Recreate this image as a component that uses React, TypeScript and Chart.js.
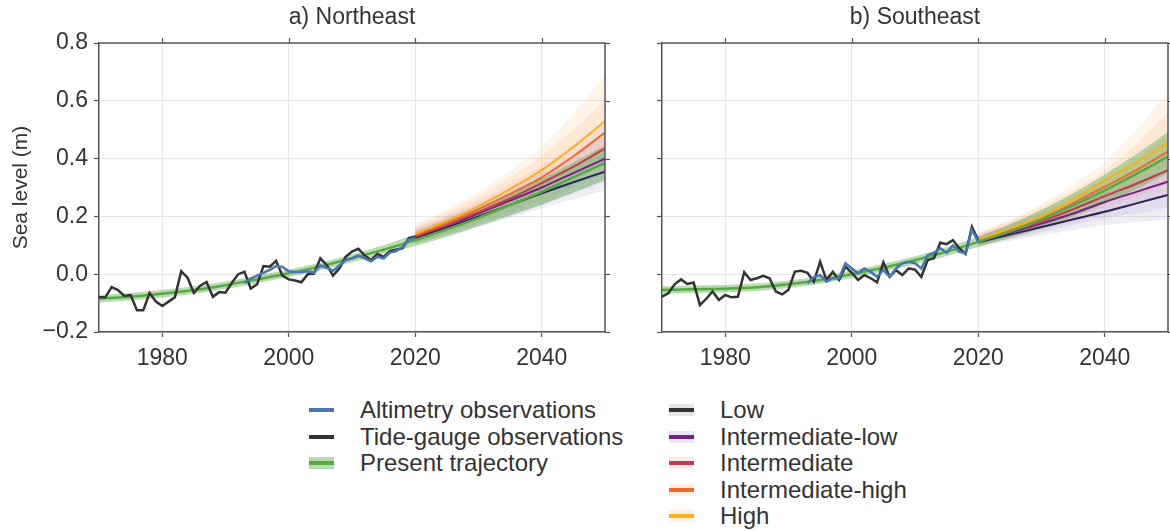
import React, { useEffect, useRef } from "react";
import { Chart, registerables } from "chart.js";

Chart.register(...registerables);

const FONT = "'Liberation Sans', Arial, Helvetica, sans-serif";
const TEXT = "#333333";

// ---------- data ----------
const range = (a: number, b: number) => Array.from({ length: b - a + 1 }, (_, i) => a + i);
const tideYears = range(1970, 2020);
const altYears = range(1993, 2020);
const trajYears = [1970, 1975, 1980, 1985, 1990, 1995, 2000, 2005, 2010, 2015, 2020, 2025, 2030, 2035, 2040, 2045, 2050];
const scenYears = [2020, 2025, 2030, 2035, 2040, 2045, 2050];
const xTicks = [1980, 2000, 2020, 2040];
const yTicks = [-0.2, 0, 0.2, 0.4, 0.6, 0.8];

// Northeast
const neTide = [
  -0.08, -0.08, -0.045, -0.055, -0.075, -0.072, -0.125, -0.125, -0.065, -0.095,
  -0.11, -0.095, -0.08, 0.01, -0.012, -0.065, -0.04, -0.027, -0.078, -0.062,
  -0.064, -0.03, 0.0, 0.008, -0.05, -0.035, 0.028, 0.026, 0.046, -0.005,
  -0.018, -0.022, -0.028, 0.0, 0.002, 0.055, 0.032, -0.005, 0.02, 0.06,
  0.078, 0.088, 0.065, 0.049, 0.07, 0.06, 0.08, 0.085, 0.09, 0.125,
  0.13,
];
const neAlt = [
  -0.03, -0.015, -0.005, 0.005, 0.015, 0.028, 0.025, 0.01, 0.008, 0.008,
  0.01, 0.005, 0.03, 0.022, 0.012, 0.03, 0.048, 0.055, 0.065, 0.055,
  0.045, 0.06, 0.055, 0.075, 0.08, 0.095, 0.12, 0.125,
];
const neTraj = [-0.085, -0.078, -0.068, -0.055, -0.038, -0.018, 0.003, 0.027, 0.055, 0.085, 0.118, 0.155, 0.195, 0.24, 0.285, 0.335, 0.385];
const neTrajLo = [-0.098, -0.091, -0.081, -0.068, -0.051, -0.031, -0.01, 0.014, 0.041, 0.07, 0.098, 0.13, 0.165, 0.203, 0.24, 0.283, 0.325];
const neTrajHi = [-0.072, -0.065, -0.055, -0.042, -0.025, -0.005, 0.016, 0.04, 0.069, 0.1, 0.138, 0.18, 0.225, 0.277, 0.33, 0.387, 0.445];
const neLow = [0.125, 0.162, 0.2, 0.24, 0.28, 0.318, 0.355];
const neLowLo = [0.105, 0.135, 0.165, 0.195, 0.228, 0.26, 0.29];
const neLowHi = [0.15, 0.19, 0.235, 0.28, 0.33, 0.375, 0.42];
const neIntLow = [0.13, 0.168, 0.21, 0.255, 0.3, 0.35, 0.4];
const neIntLowLo = [0.105, 0.138, 0.172, 0.205, 0.24, 0.28, 0.32];
const neIntLowHi = [0.155, 0.198, 0.245, 0.295, 0.35, 0.41, 0.48];
const neInt = [0.13, 0.17, 0.215, 0.262, 0.315, 0.372, 0.435];
const neIntLo = [0.105, 0.14, 0.177, 0.215, 0.255, 0.3, 0.35];
const neIntHi = [0.16, 0.205, 0.255, 0.31, 0.375, 0.45, 0.53];
const neIntHigh = [0.135, 0.178, 0.225, 0.278, 0.335, 0.408, 0.49];
const neIntHighLo = [0.11, 0.145, 0.185, 0.228, 0.275, 0.33, 0.39];
const neIntHighHi = [0.165, 0.215, 0.27, 0.335, 0.41, 0.5, 0.6];
const neHigh = [0.14, 0.185, 0.235, 0.295, 0.36, 0.44, 0.53];
const neHighLo = [0.11, 0.15, 0.192, 0.24, 0.295, 0.355, 0.42];
const neHighHi = [0.175, 0.225, 0.285, 0.355, 0.44, 0.555, 0.69];

// Southeast
const seTide = [
  -0.078, -0.066, -0.035, -0.018, -0.034, -0.029, -0.107, -0.085, -0.06, -0.089,
  -0.072, -0.08, -0.078, 0.007, -0.02, -0.014, -0.006, -0.014, -0.06, -0.07,
  -0.054, 0.009, 0.012, 0.005, -0.026, 0.043, -0.02, 0.008, -0.02, 0.026,
  0.005, -0.02, -0.003, -0.014, -0.028, 0.041, -0.009, 0.014, -0.003, 0.02,
  0.016, -0.009, 0.049, 0.055, 0.109, 0.104, 0.118, 0.09, 0.07, 0.164,
  0.118,
];
const seAlt = [
  -0.032, -0.01, -0.003, -0.026, -0.014, -0.014, 0.038, 0.02, 0.003, 0.02,
  0.008, -0.009, 0.014, -0.009, 0.02, 0.038, 0.043, 0.038, 0.02, 0.066,
  0.074, 0.09, 0.074, 0.1, 0.078, 0.072, 0.153, 0.113,
];
const seTraj = [-0.055, -0.052, -0.05, -0.045, -0.035, -0.02, 0.0, 0.022, 0.048, 0.078, 0.112, 0.148, 0.19, 0.238, 0.29, 0.347, 0.407];
const seTrajLo = [-0.068, -0.065, -0.063, -0.058, -0.048, -0.033, -0.013, 0.009, 0.034, 0.063, 0.094, 0.125, 0.16, 0.2, 0.245, 0.295, 0.35];
const seTrajHi = [-0.042, -0.039, -0.037, -0.032, -0.022, -0.007, 0.013, 0.035, 0.062, 0.093, 0.13, 0.172, 0.222, 0.28, 0.345, 0.415, 0.493];
const seLow = [0.11, 0.137, 0.163, 0.19, 0.216, 0.245, 0.274];
const seLowLo = [0.095, 0.115, 0.135, 0.152, 0.17, 0.18, 0.19];
const seLowHi = [0.13, 0.165, 0.2, 0.24, 0.28, 0.32, 0.36];
const seIntLow = [0.113, 0.143, 0.175, 0.21, 0.25, 0.285, 0.32];
const seIntLowLo = [0.097, 0.12, 0.145, 0.17, 0.195, 0.21, 0.23];
const seIntLowHi = [0.135, 0.172, 0.212, 0.258, 0.31, 0.36, 0.42];
const seInt = [0.115, 0.148, 0.183, 0.225, 0.27, 0.313, 0.36];
const seIntLo = [0.098, 0.124, 0.152, 0.18, 0.21, 0.24, 0.27];
const seIntHi = [0.138, 0.178, 0.222, 0.273, 0.33, 0.4, 0.48];
const seIntHigh = [0.118, 0.153, 0.192, 0.245, 0.303, 0.36, 0.424];
const seIntHighLo = [0.1, 0.128, 0.16, 0.195, 0.232, 0.27, 0.31];
const seIntHighHi = [0.142, 0.185, 0.235, 0.292, 0.36, 0.45, 0.56];
const seHigh = [0.12, 0.158, 0.2, 0.258, 0.325, 0.385, 0.455];
const seHighLo = [0.102, 0.132, 0.168, 0.21, 0.255, 0.305, 0.36];
const seHighHi = [0.145, 0.19, 0.245, 0.31, 0.39, 0.5, 0.63];

// ---------- styles ----------
const C = {
  alt: "#4a76b2",
  tide: "#333333",
  traj: "#5aa845",
  trajBand: "rgba(98,176,78,0.45)",
  low: "#2b2257",
  intLow: "#752084",
  int: "#c23a50",
  intHigh: "#ec6a2b",
  high: "#f5b220",
  lowBand: "rgba(120,115,160,0.13)",
  intLowBand: "rgba(150,110,200,0.13)",
  intBand: "rgba(225,120,140,0.12)",
  intHighBand: "rgba(245,150,90,0.12)",
  highBand: "rgba(250,185,110,0.16)",
};

const pts = (xs: number[], ys: number[]) => xs.map((x, i) => ({ x, y: ys[i] }));

type Scen = { line: number[]; lo: number[]; hi: number[]; color: string; band: string };

function buildDatasets(p: {
  tide: number[]; alt: number[]; traj: number[]; trajLo: number[]; trajHi: number[]; scen: Scen[];
}) {
  const base = { pointRadius: 0, pointHoverRadius: 0, fill: false };
  const ds: any[] = [
    { ...base, data: pts(altYears, p.alt), borderColor: C.alt, borderWidth: 2.5 },
    { ...base, data: pts(tideYears, p.tide), borderColor: C.tide, borderWidth: 2.5 },
    { ...base, data: pts(trajYears, p.traj), borderColor: C.traj, borderWidth: 2.5, cubicInterpolationMode: "monotone" },
  ];
  // scenario lines, top-drawn first
  for (const s of [...p.scen].reverse()) {
    ds.push({ ...base, data: pts(scenYears, s.line), borderColor: s.color, borderWidth: 2, cubicInterpolationMode: "monotone" });
  }
  ds.push({ ...base, data: pts(trajYears, p.trajHi), borderWidth: 0, borderColor: "rgba(0,0,0,0)", backgroundColor: C.trajBand, fill: "+1", cubicInterpolationMode: "monotone" });
  ds.push({ ...base, data: pts(trajYears, p.trajLo), borderWidth: 0, borderColor: "rgba(0,0,0,0)", cubicInterpolationMode: "monotone" });
  for (const s of p.scen) {
    ds.push({ ...base, data: pts(scenYears, s.hi), borderWidth: 0, borderColor: "rgba(0,0,0,0)", backgroundColor: s.band, fill: "+1", cubicInterpolationMode: "monotone" });
    ds.push({ ...base, data: pts(scenYears, s.lo), borderWidth: 0, borderColor: "rgba(0,0,0,0)", cubicInterpolationMode: "monotone" });
  }
  return ds;
}

const mirrorTicks = {
  id: "mirrorTicks",
  afterDraw(chart: any) {
    const { ctx, chartArea, scales } = chart;
    ctx.save();
    ctx.strokeStyle = "#555555";
    ctx.lineWidth = 1.2;
    for (const v of xTicks) {
      const px = Math.round(scales.x.getPixelForValue(v)) + 0.5;
      ctx.beginPath();
      ctx.moveTo(px, chartArea.top);
      ctx.lineTo(px, chartArea.top - 5);
      ctx.stroke();
    }
    for (const v of yTicks) {
      const py = Math.round(scales.y.getPixelForValue(v)) + 0.5;
      ctx.beginPath();
      ctx.moveTo(chartArea.right, py);
      ctx.lineTo(chartArea.right + 5, py);
      ctx.stroke();
    }
    ctx.lineWidth = 1.5;
    ctx.beginPath();
    ctx.moveTo(chartArea.left, chartArea.top);
    ctx.lineTo(chartArea.right, chartArea.top);
    ctx.lineTo(chartArea.right, chartArea.bottom);
    ctx.stroke();
    ctx.restore();
  },
};

function makeConfig(title: string, datasets: any[], showY: boolean, padRight: number, yWidth: number) {
  return {
    type: "line",
    data: { datasets },
    plugins: [mirrorTicks],
    options: {
      animation: false,
      responsive: false,
      events: [],
      layout: { padding: { left: 0, right: padRight, top: 0, bottom: 0 } },
      plugins: {
        legend: { display: false },
        tooltip: { enabled: false },
        title: {
          display: true,
          text: title,
          fullSize: false,
          color: TEXT,
          font: { family: FONT, size: 23, weight: "normal" },
          padding: { top: 4, bottom: 11.4 },
        },
      },
      scales: {
        x: {
          type: "linear",
          min: 1970,
          max: 2050,
          afterBuildTicks: (s: any) => { s.ticks = xTicks.map((v) => ({ value: v })); },
          afterFit: (s: any) => { s.height = 48; },
          ticks: {
            color: TEXT,
            font: { family: FONT, size: 23 },
            padding: 8,
            maxRotation: 0,
            autoSkip: false,
            callback: (v: any) => String(v),
          },
          grid: { color: "#e6e6e6", lineWidth: 1, drawTicks: true, tickLength: 5, tickColor: "#555555", tickWidth: 1.2 },
          border: { color: "#555555", width: 1.5 },
        },
        y: {
          type: "linear",
          min: -0.2,
          max: 0.8,
          afterBuildTicks: (s: any) => { s.ticks = yTicks.map((v) => ({ value: v })); },
          afterFit: (s: any) => { s.width = yWidth; },
          ticks: {
            display: showY,
            color: TEXT,
            font: { family: FONT, size: 23 },
            padding: 6,
            callback: (v: any) => (Math.abs(v) < 1e-9 ? "0.0" : Number(v).toFixed(1).replace("-", "\u2212")),
          },
          title: {
            display: showY,
            text: "Sea level (m)",
            color: TEXT,
            font: { family: FONT, size: 21 },
            padding: { top: 9, bottom: 0 },
          },
          grid: { color: "#e6e6e6", lineWidth: 1, drawTicks: true, tickLength: 5, tickColor: "#555555", tickWidth: 1.2 },
          border: { color: "#555555", width: 1.5 },
        },
      },
    },
  };
}

function Panel(props: { left: number; width: number; config: () => any }) {
  const ref = useRef<HTMLCanvasElement | null>(null);
  useEffect(() => {
    if (!ref.current) return;
    const chart = new Chart(ref.current, props.config());
    return () => chart.destroy();
  }, []);
  return (
    <canvas
      ref={ref}
      width={props.width}
      height={380}
      style={{ position: "absolute", left: props.left, top: 0, width: props.width, height: 380 }}
    />
  );
}

const neScen: Scen[] = [
  { line: neLow, lo: neLowLo, hi: neLowHi, color: C.low, band: C.lowBand },
  { line: neIntLow, lo: neIntLowLo, hi: neIntLowHi, color: C.intLow, band: C.intLowBand },
  { line: neInt, lo: neIntLo, hi: neIntHi, color: C.int, band: C.intBand },
  { line: neIntHigh, lo: neIntHighLo, hi: neIntHighHi, color: C.intHigh, band: C.intHighBand },
  { line: neHigh, lo: neHighLo, hi: neHighHi, color: C.high, band: C.highBand },
];
const seScen: Scen[] = [
  { line: seLow, lo: seLowLo, hi: seLowHi, color: C.low, band: C.lowBand },
  { line: seIntLow, lo: seIntLowLo, hi: seIntLowHi, color: C.intLow, band: C.intLowBand },
  { line: seInt, lo: seIntLo, hi: seIntHi, color: C.int, band: C.intBand },
  { line: seIntHigh, lo: seIntHighLo, hi: seIntHighHi, color: C.intHigh, band: C.intHighBand },
  { line: seHigh, lo: seHighLo, hi: seHighHi, color: C.high, band: C.highBand },
];

const legendLeft = [
  { label: "Altimetry observations", color: C.alt, band: "" },
  { label: "Tide-gauge observations", color: C.tide, band: "" },
  { label: "Present trajectory", color: C.traj, band: "rgba(98,176,78,0.45)" },
];
const legendRight = [
  { label: "Low", color: "#333333", band: "rgba(120,120,120,0.2)" },
  { label: "Intermediate-low", color: C.intLow, band: "rgba(150,110,200,0.18)" },
  { label: "Intermediate", color: C.int, band: "rgba(225,120,140,0.16)" },
  { label: "Intermediate-high", color: C.intHigh, band: "rgba(245,150,90,0.16)" },
  { label: "High", color: C.high, band: "rgba(250,185,110,0.2)" },
];
const legendRowY = [410, 437, 463, 490, 516];

function LegendItem(p: { x: number; y: number; label: string; color: string; band: string }) {
  return (
    <div style={{ position: "absolute", left: p.x, top: p.y - 14, height: 28, whiteSpace: "nowrap" }}>
      {p.band ? (
        <div style={{ position: "absolute", left: 0, top: 8, width: 25, height: 12, background: p.band }} />
      ) : null}
      <div style={{ position: "absolute", left: 0, top: 12, width: 25, height: 4, background: p.color }} />
      <div
        style={{
          position: "absolute",
          left: 51,
          top: 0,
          lineHeight: "28px",
          fontFamily: FONT,
          fontSize: 24,
          color: TEXT,
        }}
      >
        {p.label}
      </div>
    </div>
  );
}

export default function App() {
  return (
    <div style={{ position: "absolute", left: 0, top: 0, width: 1170, height: 531, background: "#fff", overflow: "hidden" }}>
      <Panel
        left={0}
        width={620}
        config={() =>
          makeConfig(
            "a) Northeast",
            buildDatasets({ tide: neTide, alt: neAlt, traj: neTraj, trajLo: neTrajLo, trajHi: neTrajHi, scen: neScen }),
            true,
            15,
            99
          )
        }
      />
      <Panel
        left={620}
        width={550}
        config={() =>
          makeConfig(
            "b) Southeast",
            buildDatasets({ tide: seTide, alt: seAlt, traj: seTraj, trajLo: seTrajLo, trajHi: seTrajHi, scen: seScen }),
            false,
            2,
            42
          )
        }
      />
      {legendLeft.map((it, i) => (
        <LegendItem key={it.label} x={309} y={legendRowY[i]} {...it} />
      ))}
      {legendRight.map((it, i) => (
        <LegendItem key={it.label} x={669} y={legendRowY[i]} {...it} />
      ))}
    </div>
  );
}
